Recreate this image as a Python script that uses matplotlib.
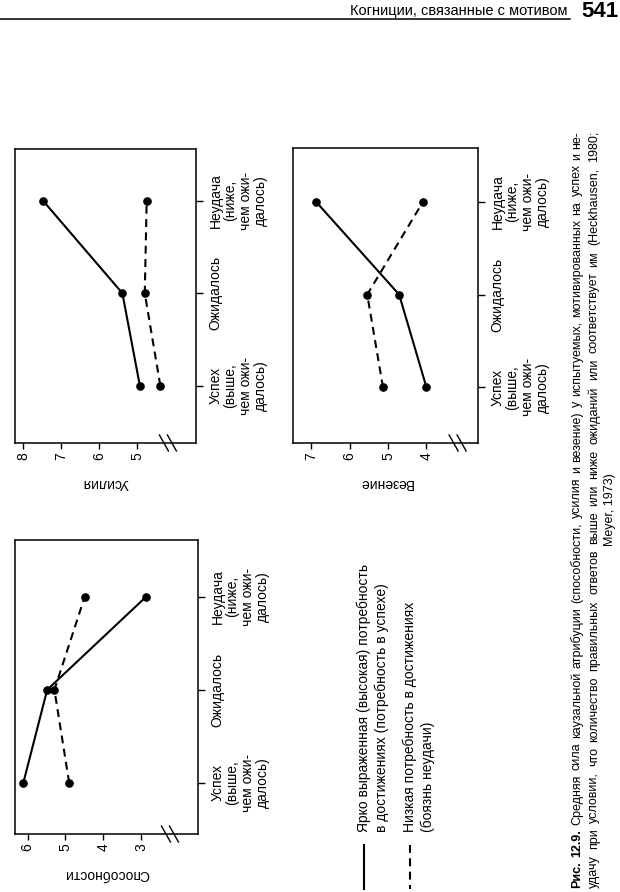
import matplotlib
matplotlib.use('Agg')
import matplotlib.pyplot as plt
from matplotlib import font_manager
from matplotlib.font_manager import FontProperties
from matplotlib.lines import Line2D

plt.rcParams['font.family'] = ['Liberation Sans', 'DejaVu Sans']

# Размер страницы в пикселях
W, H = 620, 892

# Данные (категории снизу вверх)
categories = ['Успех\n(выше,\nчем ожи-\nдалось)', 'Ожидалось', 'Неудача\n(ниже,\nчем ожи-\nдалось)']

# Усилия
effort_high = [4.93, 5.39, 7.48]
effort_low = [4.39, 4.80, 4.75]
effort_ticks = [5, 6, 7, 8]

# Везение
luck_high = [4.00, 4.71, 6.87]
luck_low = [5.13, 5.54, 4.09]
luck_ticks = [4, 5, 6, 7]

# Способности
ability_high = [6.11, 5.48, 2.87]
ability_low = [4.90, 5.29, 4.49]
ability_ticks = [3, 4, 5, 6]

legend_labels = [['Ярко выраженная (высокая) потребность', 'в достижениях (потребность в успехе)'],
                 ['Низкая потребность в достижениях', '(боязнь неудачи)']]

header_text = 'Когниции, связанные с мотивом'
page_number = '541'
caption_bold = 'Рис. 12.9.'
caption_lines = [
    'Рис. 12.9. Средняя сила каузальной атрибуции (способности, усилия и везение) у испытуемых, мотивированных на успех и не-',
    'удачу при условии, что количество правильных ответов выше или ниже ожиданий или соответствует им (Heckhausen, 1980;',
    'Meyer, 1973)',
]

DASH = (0, (3.8, 2.6))

fig = plt.figure(figsize=(W / 100, H / 100), dpi=100)


def page_axes(left, top, right, bottom):
    return fig.add_axes([left / W, 1 - bottom / H, (right - left) / W, (bottom - top) / H])


def draw_chart(box, xlim, ylim, ticks, high, low, label, break_x):
    ax = page_axes(*box)
    ys = list(range(len(categories)))
    ax.plot(high, ys, color='black', lw=1.5, marker='o', ms=5.2)
    ax.plot(low, ys, color='black', lw=1.5, ls=DASH, marker='o', ms=5.2)
    ax.set_xlim(*xlim)
    ax.set_ylim(*ylim)
    ax.set_xticks(ticks)
    ax.set_xticklabels([str(t) for t in ticks], rotation=90)
    ax.yaxis.tick_right()
    ax.set_yticks(ys)
    ax.set_yticklabels(categories, rotation=90, ha='left', va='center',
                       multialignment='center', linespacing=1.1)
    ax.tick_params(axis='x', length=4.5, width=1, pad=2, labelsize=10)
    ax.tick_params(axis='y', length=5, width=1, pad=4, labelsize=10)
    ax.set_xlabel(label, rotation=180, fontsize=10, labelpad=12)
    for s in ax.spines.values():
        s.set_linewidth(1.1)
    # разрыв шкалы
    x0, x1 = ax.get_xlim()
    f = (break_x - x0) / (x1 - x0)
    aw, ah = box[2] - box[0], box[3] - box[1]
    for dx in (-4, 4):
        ax.plot([f + (dx - 4.5) / aw, f + (dx + 4.5) / aw], [8 / ah, -8 / ah],
                transform=ax.transAxes, color='black', lw=1, clip_on=False)
    return ax


draw_chart((15, 149, 196, 443), (8.22, 3.45), (-0.62, 2.56), effort_ticks,
           effort_high, effort_low, 'Усилия', 4.19)
draw_chart((293, 148, 478, 443), (7.47, 2.66), (-0.6, 2.58), luck_ticks,
           luck_high, luck_low, 'Везение', 3.19)
draw_chart((15, 540, 198, 834), (6.33, 1.5), (-0.55, 2.61), ability_ticks,
           ability_high, ability_low, 'Способности', 2.24)

# Легенда
for i, (style, lines) in enumerate(zip(['-', DASH], legend_labels)):
    x = 364 + 46 * i
    fig.add_artist(Line2D([x / W, x / W], [1 - 845 / H, 1 - 889 / H], color='black',
                          lw=1.5, ls=style))
    for j, txt in enumerate(lines):
        fig.text((x + 18 * j) / W, 1 - 832 / H, txt, rotation=90, ha='center',
                 va='bottom', fontsize=10)

# Колонтитул
fig.text(568 / W, 1 - 15 / H, header_text, ha='right', va='baseline', fontsize=10.5)
fig.text(618 / W, 1 - 17 / H, page_number, ha='right', va='baseline', fontsize=16,
         weight='bold')
fig.add_artist(Line2D([0, 570 / W], [1 - 19 / H] * 2, color='black', lw=1.1))

# Подпись (выровнена по ширине)
names = {f.name for f in font_manager.fontManager.ttflist}
cap_family = 'Liberation Sans Narrow' if 'Liberation Sans Narrow' in names else 'Liberation Sans'
cap_size = 10 if cap_family == 'Liberation Sans Narrow' else 9.5
renderer = fig.canvas.get_renderer()
y_start, y_end = 888, 131
length = y_start - y_end


def props(bold, size):
    return FontProperties(family=cap_family, size=size, weight='bold' if bold else 'normal')


def words_of(line):
    n_bold = len(caption_bold.split()) if line.startswith(caption_bold) else 0
    return [(w, k < n_bold) for k, w in enumerate(line.split())]


def natural(line, size):
    ws = words_of(line)
    tot = sum(renderer.get_text_width_height_descent(w, props(b, size), ismath=False)[0] for w, b in ws)
    sp = renderer.get_text_width_height_descent('a a', props(False, size), ismath=False)[0] - \
        renderer.get_text_width_height_descent('aa', props(False, size), ismath=False)[0]
    return tot + sp * (len(ws) - 1)


longest = max(natural(l, cap_size) for l in caption_lines[:2])
if longest > 0.985 * length:
    cap_size *= 0.985 * length / longest

cap_x = [577, 594, 610]
for k, line in enumerate(caption_lines):
    ws = words_of(line)
    if k < 2:
        widths = [renderer.get_text_width_height_descent(w, props(b, cap_size), ismath=False)[0]
                  for w, b in ws]
        gap = (length - sum(widths)) / (len(ws) - 1)
        y = y_start
        for (w, b), wd in zip(ws, widths):
            fig.text(cap_x[k] / W, 1 - y / H, w, rotation=90, ha='center', va='bottom',
                     fontproperties=props(b, cap_size))
            y -= wd + gap
    else:
        fig.text(cap_x[k] / W, 1 - (y_start + y_end) / 2 / H, line, rotation=90,
                 ha='center', va='center', fontproperties=props(False, cap_size))

fig.savefig('out.png', dpi=100)
